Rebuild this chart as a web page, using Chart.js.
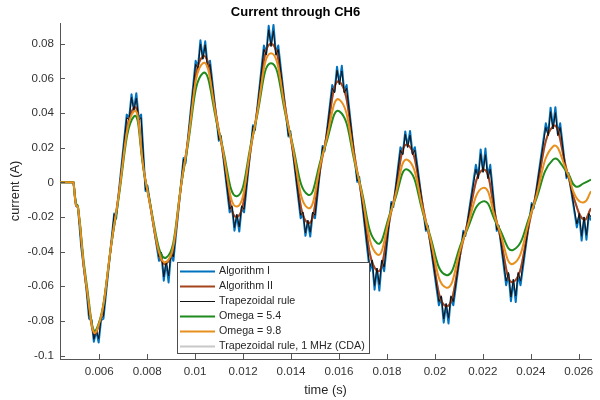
<!DOCTYPE html>
<html>
<head>
<meta charset="utf-8">
<script src="https://cdn.jsdelivr.net/npm/chart.js@4.4.1/dist/chart.umd.min.js"></script>
<style>
  html, body { margin: 0; padding: 0; background: #fff; }
</style>
</head>
<body>
<canvas id="ch6" width="600" height="400"></canvas>
<script>
// time (s) of the knots for the smooth curves: start, then peak/trough and mid-crossing of every half wave
var timeSmooth = [0.004363, 0.0047, 0.0049, 0.004925, 0.005029, 0.005113, 0.005458,
    0.005875, 0.006663, 0.007446, 0.00797, 0.008792, 0.009556, 0.01032, 0.011029,
    0.01174, 0.012452, 0.013167, 0.013931, 0.0147, 0.015356, 0.016017, 0.0168,
    0.017583, 0.018223, 0.018863, 0.019665, 0.020467, 0.021227, 0.022008, 0.022619,
    0.023271, 0.024077, 0.024925, 0.025529, 0.025863, 0.02622, 0.02651];

// current (A)
var algorithmII = [0, 0, 0, 0, -0.013, -0.0146, -0.060,
    -0.0866, -0.021, 0.043, -0.002, -0.047, 0.011, 0.0726, 0.027,
    -0.020, 0.030, 0.080, 0.0295, -0.0234, 0.018, 0.058, 0.0033,
    -0.051, -0.0143, 0.0217, -0.025, -0.0715, -0.031, 0.0073, -0.025,
    -0.0575, -0.015, 0.0323, 0.0054, -0.012, -0.0215, -0.015];

var omega54 = [0, 0, 0, 0, -0.012, -0.014, -0.057,
    -0.085, -0.022, 0.038, -0.002, -0.0434, 0.010, 0.063, 0.027,
    -0.008, 0.030, 0.0688, 0.0295, -0.0071, 0.018, 0.041, 0.0033,
    -0.035, -0.0143, 0.0073, -0.025, -0.0535, -0.031, -0.011, -0.025,
    -0.039, -0.015, 0.0131, 0.0054, -0.0023, -0.0005, 0.0016];

var omega98 = [0, 0, 0, 0, -0.013, -0.0146, -0.059,
    -0.086, -0.021, 0.041, -0.002, -0.046, 0.011, 0.0688, 0.027,
    -0.014, 0.030, 0.0746, 0.0295, -0.0148, 0.018, 0.0477, 0.0033,
    -0.0415, -0.0143, 0.013, -0.025, -0.0608, -0.031, -0.0032, -0.025,
    -0.047, -0.015, 0.0207, 0.0054, -0.008, -0.0115, -0.0052];

// the 1 MHz trapezoidal curve sits under Algorithm II everywhere
var trapezoidal1MHz = algorithmII;

// finer time grid for the two rippled curves (one row per peak or trough, then the tooth on the slope)
var timeFine = [0.004363, 0.004925, 0.005029, 0.005113, 0.00525, 0.005458,
    0.005575, 0.005675, 0.005775, 0.005875, 0.005975, 0.006075, 0.006175, 0.006623, 0.006703,
    0.007146, 0.007246, 0.007346, 0.007446, 0.007546, 0.007646, 0.007746, 0.00793, 0.00801,
    0.008492, 0.008592, 0.008692, 0.008792, 0.008892, 0.008992, 0.009092, 0.009516, 0.009596,
    0.01002, 0.01012, 0.01022, 0.01032, 0.01042, 0.01052, 0.01062, 0.010989, 0.011069,
    0.01144, 0.01154, 0.01164, 0.01174, 0.01184, 0.01194, 0.01204, 0.012412, 0.012492,
    0.012867, 0.012967, 0.013067, 0.013167, 0.013267, 0.013367, 0.013467, 0.013891, 0.013971,
    0.0144, 0.0145, 0.0146, 0.0147, 0.0148, 0.0149, 0.0150, 0.015316, 0.015396,
    0.015717, 0.015817, 0.015917, 0.016017, 0.016117, 0.016217, 0.016317, 0.01676, 0.01684,
    0.017283, 0.017383, 0.017483, 0.017583, 0.017683, 0.017783, 0.017883, 0.018183, 0.018263,
    0.018563, 0.018663, 0.018763, 0.018863, 0.018963, 0.019063, 0.019163, 0.019625, 0.019705,
    0.020167, 0.020267, 0.020367, 0.020467, 0.020567, 0.020667, 0.020767, 0.021187, 0.021267,
    0.021708, 0.021808, 0.021908, 0.022008, 0.022108, 0.022208, 0.022308, 0.022579, 0.022659,
    0.022971, 0.023071, 0.023171, 0.023271, 0.023371, 0.023471, 0.023571, 0.024037, 0.024117,
    0.024625, 0.024725, 0.024825, 0.024925, 0.025025, 0.025125, 0.025225, 0.025489, 0.025569,
    0.02592, 0.02602, 0.02612, 0.02622, 0.02632, 0.02642, 0.02651];

var algorithmI = [0, 0, -0.0135, -0.0146, -0.0375, -0.0605,
    -0.0787, -0.0796, -0.0920, -0.0856, -0.0925, -0.0796, -0.0787, -0.018, -0.021,
    0.0391, 0.0370, 0.0508, 0.0420, 0.0515, 0.0370, 0.0391, -0.005, -0.002,
    -0.0453, -0.0413, -0.0568, -0.0460, -0.0578, -0.0413, -0.0453, 0.014, 0.011,
    0.0702, 0.0667, 0.0820, 0.0716, 0.0814, 0.0667, 0.0702, 0.024, 0.027,
    -0.0173, -0.0145, -0.0279, -0.0190, -0.0284, -0.0145, -0.0173, 0.033, 0.030,
    0.0790, 0.0744, 0.0904, 0.0790, 0.0909, 0.0744, 0.0790, 0.0265, 0.0295,
    -0.0207, -0.0181, -0.0309, -0.0224, -0.0313, -0.0181, -0.0207, 0.021, 0.018,
    0.0562, 0.0526, 0.0667, 0.0570, 0.0673, 0.0526, 0.0562, 0.0003, 0.0033,
    -0.0513, -0.0458, -0.0620, -0.0500, -0.0625, -0.0458, -0.0513, -0.0113, -0.0143,
    0.0203, 0.0169, 0.0294, 0.0207, 0.0297, 0.0169, 0.0203, -0.028, -0.025,
    -0.0710, -0.0665, -0.0810, -0.0705, -0.0815, -0.0665, -0.0710, -0.028, -0.031,
    0.0101, 0.0031, 0.0190, 0.0063, 0.0195, 0.0031, 0.0101, -0.028, -0.025,
    -0.0594, -0.0530, -0.0686, -0.0565, -0.0691, -0.0530, -0.0594, -0.012, -0.015,
    0.0341, 0.0279, 0.0431, 0.0313, 0.0434, 0.0279, 0.0341, 0.0024, 0.0054,
    -0.0260, -0.0189, -0.0336, -0.0205, -0.0331, -0.0189, -0.0220];

var trapezoidal = [0, 0, -0.013, -0.0146, -0.037, -0.060,
    -0.0773, -0.0786, -0.0906, -0.0851, -0.0903, -0.0786, -0.0773, -0.0185, -0.0207,
    0.0373, 0.0360, 0.0490, 0.0415, 0.0486, 0.0360, 0.0373, -0.0045, -0.0023,
    -0.0431, -0.0403, -0.0546, -0.0455, -0.0541, -0.0403, -0.0431, 0.0135, 0.0113,
    0.0681, 0.0657, 0.0799, 0.0711, 0.0794, 0.0657, 0.0681, 0.0245, 0.0267,
    -0.0155, -0.0135, -0.0261, -0.0185, -0.0257, -0.0135, -0.0155, 0.0325, 0.0303,
    0.0767, 0.0734, 0.0881, 0.0785, 0.0875, 0.0734, 0.0767, 0.0270, 0.0292,
    -0.0190, -0.0171, -0.0292, -0.0219, -0.0288, -0.0171, -0.0190, 0.0205, 0.0183,
    0.0543, 0.0516, 0.0647, 0.0565, 0.0643, 0.0516, 0.0543, 0.0008, 0.0030,
    -0.0489, -0.0448, -0.0596, -0.0495, -0.0590, -0.0448, -0.0489, -0.0118, -0.0140,
    0.0185, 0.0159, 0.0277, 0.0202, 0.0272, 0.0159, 0.0185, -0.0275, -0.0253,
    -0.0689, -0.0655, -0.0789, -0.0700, -0.0784, -0.0655, -0.0689, -0.0285, -0.0307,
    0.0076, 0.0021, 0.0165, 0.0058, 0.0159, 0.0021, 0.0076, -0.0275, -0.0253,
    -0.0570, -0.0520, -0.0662, -0.0560, -0.0656, -0.0520, -0.0570, -0.0125, -0.0147,
    0.0317, 0.0269, 0.0408, 0.0308, 0.0402, 0.0269, 0.0317, 0.0029, 0.0051,
    -0.0240, -0.0179, -0.0311, -0.0200, -0.0305, -0.0179, -0.0200];

var yTickStep = 0.02;
var xTickStep = 0.002;

var FONT = '"Liberation Sans", Arial, Helvetica, sans-serif';

function toPoints(xs, ys) {
    return xs.map(function (x, i) { return { x: x, y: ys[i] }; });
}

function tickText(v) {
    return String(Math.round(v * 1e6) / 1e6);
}

// MATLAB style ticks pointing into the axes
var inwardTicks = {
    id: 'inwardTicks',
    afterDatasetsDraw: function (chart) {
        var ctx = chart.ctx, a = chart.chartArea;
        var sx = chart.scales.x, sy = chart.scales.y;
        ctx.save();
        ctx.strokeStyle = '#555';
        ctx.lineWidth = 1;
        ctx.beginPath();
        sx.ticks.forEach(function (t) {
            var px = Math.round(sx.getPixelForValue(t.value)) + 0.5;
            ctx.moveTo(px, a.bottom);
            ctx.lineTo(px, a.bottom - 5);
        });
        sy.ticks.forEach(function (t) {
            var py = Math.round(sy.getPixelForValue(t.value)) + 0.5;
            ctx.moveTo(a.left, py);
            ctx.lineTo(a.left + 5, py);
        });
        ctx.stroke();
        ctx.restore();
    }
};

// legend box inside the axes, lower middle
var boxLegend = {
    id: 'boxLegend',
    afterDraw: function (chart) {
        var ctx = chart.ctx, a = chart.chartArea;
        var x0 = a.left + 117, y0 = a.top + 239, w = 192, h = 91;
        ctx.save();
        ctx.fillStyle = '#fff';
        ctx.fillRect(x0, y0, w, h);
        ctx.strokeStyle = '#4d4d4d';
        ctx.lineWidth = 1;
        ctx.strokeRect(x0 + 0.5, y0 + 0.5, w, h);
        ctx.font = '10.7px ' + FONT;
        ctx.textBaseline = 'middle';
        chart.data.datasets.forEach(function (ds, row) {
            var y = Math.round(y0 + 8.7 + row * 15.1) + 0.5;
            ctx.strokeStyle = ds.borderColor;
            ctx.lineWidth = ds.borderWidth;
            ctx.beginPath();
            ctx.moveTo(x0 + 3, y);
            ctx.lineTo(x0 + 38, y);
            ctx.stroke();
            ctx.fillStyle = '#262626';
            ctx.fillText(ds.label, x0 + 42, y);
        });
        ctx.restore();
    }
};

var rippled = { tension: 0, borderJoinStyle: 'round' };
var smooth = { tension: 0.5 };

var chart = new Chart("ch6", {
    type: 'line',
    data: {
        datasets: [
            Object.assign({ label: 'Algorithm I', data: toPoints(timeFine, algorithmI),
                borderColor: '#0072BD', borderWidth: 2, order: 5 }, rippled),
            Object.assign({ label: 'Algorithm II', data: toPoints(timeSmooth, algorithmII),
                borderColor: '#A5451F', borderWidth: 2, order: 4 }, smooth),
            Object.assign({ label: 'Trapezoidal rule', data: toPoints(timeFine, trapezoidal),
                borderColor: '#111111', borderWidth: 1, order: 3 }, rippled),
            Object.assign({ label: 'Omega = 5.4', data: toPoints(timeSmooth, omega54),
                borderColor: '#1F8B1F', borderWidth: 2, order: 2 }, smooth),
            Object.assign({ label: 'Omega = 9.8', data: toPoints(timeSmooth, omega98),
                borderColor: '#E8901E', borderWidth: 2, order: 1 }, smooth),
            Object.assign({ label: 'Trapezoidal rule, 1 MHz (CDA)', data: toPoints(timeSmooth, trapezoidal1MHz),
                borderColor: '#C8C8C8', borderWidth: 2, order: 6 }, smooth)
        ]
    },
    options: {
        responsive: false,
        animation: false,
        devicePixelRatio: 1,
        layout: { padding: { right: 9 } },
        elements: { point: { radius: 0 } },
        plugins: {
            legend: { display: false },
            tooltip: { enabled: false },
            title: {
                display: true,
                text: 'Current through CH6',
                color: '#000',
                font: { family: FONT, size: 13, weight: 'bold' },
                padding: { top: 4.5, bottom: 2.9 }
            }
        },
        scales: {
            x: {
                type: 'linear',
                min: timeSmooth[0],
                max: timeSmooth[timeSmooth.length - 1],
                afterFit: function (s) { s.height = 41; },
                ticks: {
                    stepSize: xTickStep, includeBounds: false, maxTicksLimit: 40,
                    maxRotation: 0, padding: 6, color: '#333',
                    font: { family: FONT, size: 11.6 },
                    callback: tickText
                },
                grid: { drawOnChartArea: false, drawTicks: false },
                border: { color: '#555', width: 1 },
                title: {
                    display: true, text: 'time (s)', color: '#262626',
                    font: { family: FONT, size: 12.8 },
                    padding: { top: 0, bottom: 2 }
                }
            },
            y: {
                min: -0.102,
                max: 0.092,
                afterFit: function (s) { s.width = 60; },
                ticks: {
                    stepSize: yTickStep, includeBounds: false, maxTicksLimit: 40,
                    padding: 6, color: '#333',
                    font: { family: FONT, size: 11.6 },
                    callback: tickText
                },
                grid: { drawOnChartArea: false, drawTicks: false },
                border: { color: '#555', width: 1 },
                title: {
                    display: true, text: 'current (A)', color: '#262626',
                    font: { family: FONT, size: 12.8 },
                    padding: { top: 8, bottom: 0 }
                }
            }
        }
    },
    plugins: [inwardTicks, boxLegend]
});
</script>
</body>
</html>
